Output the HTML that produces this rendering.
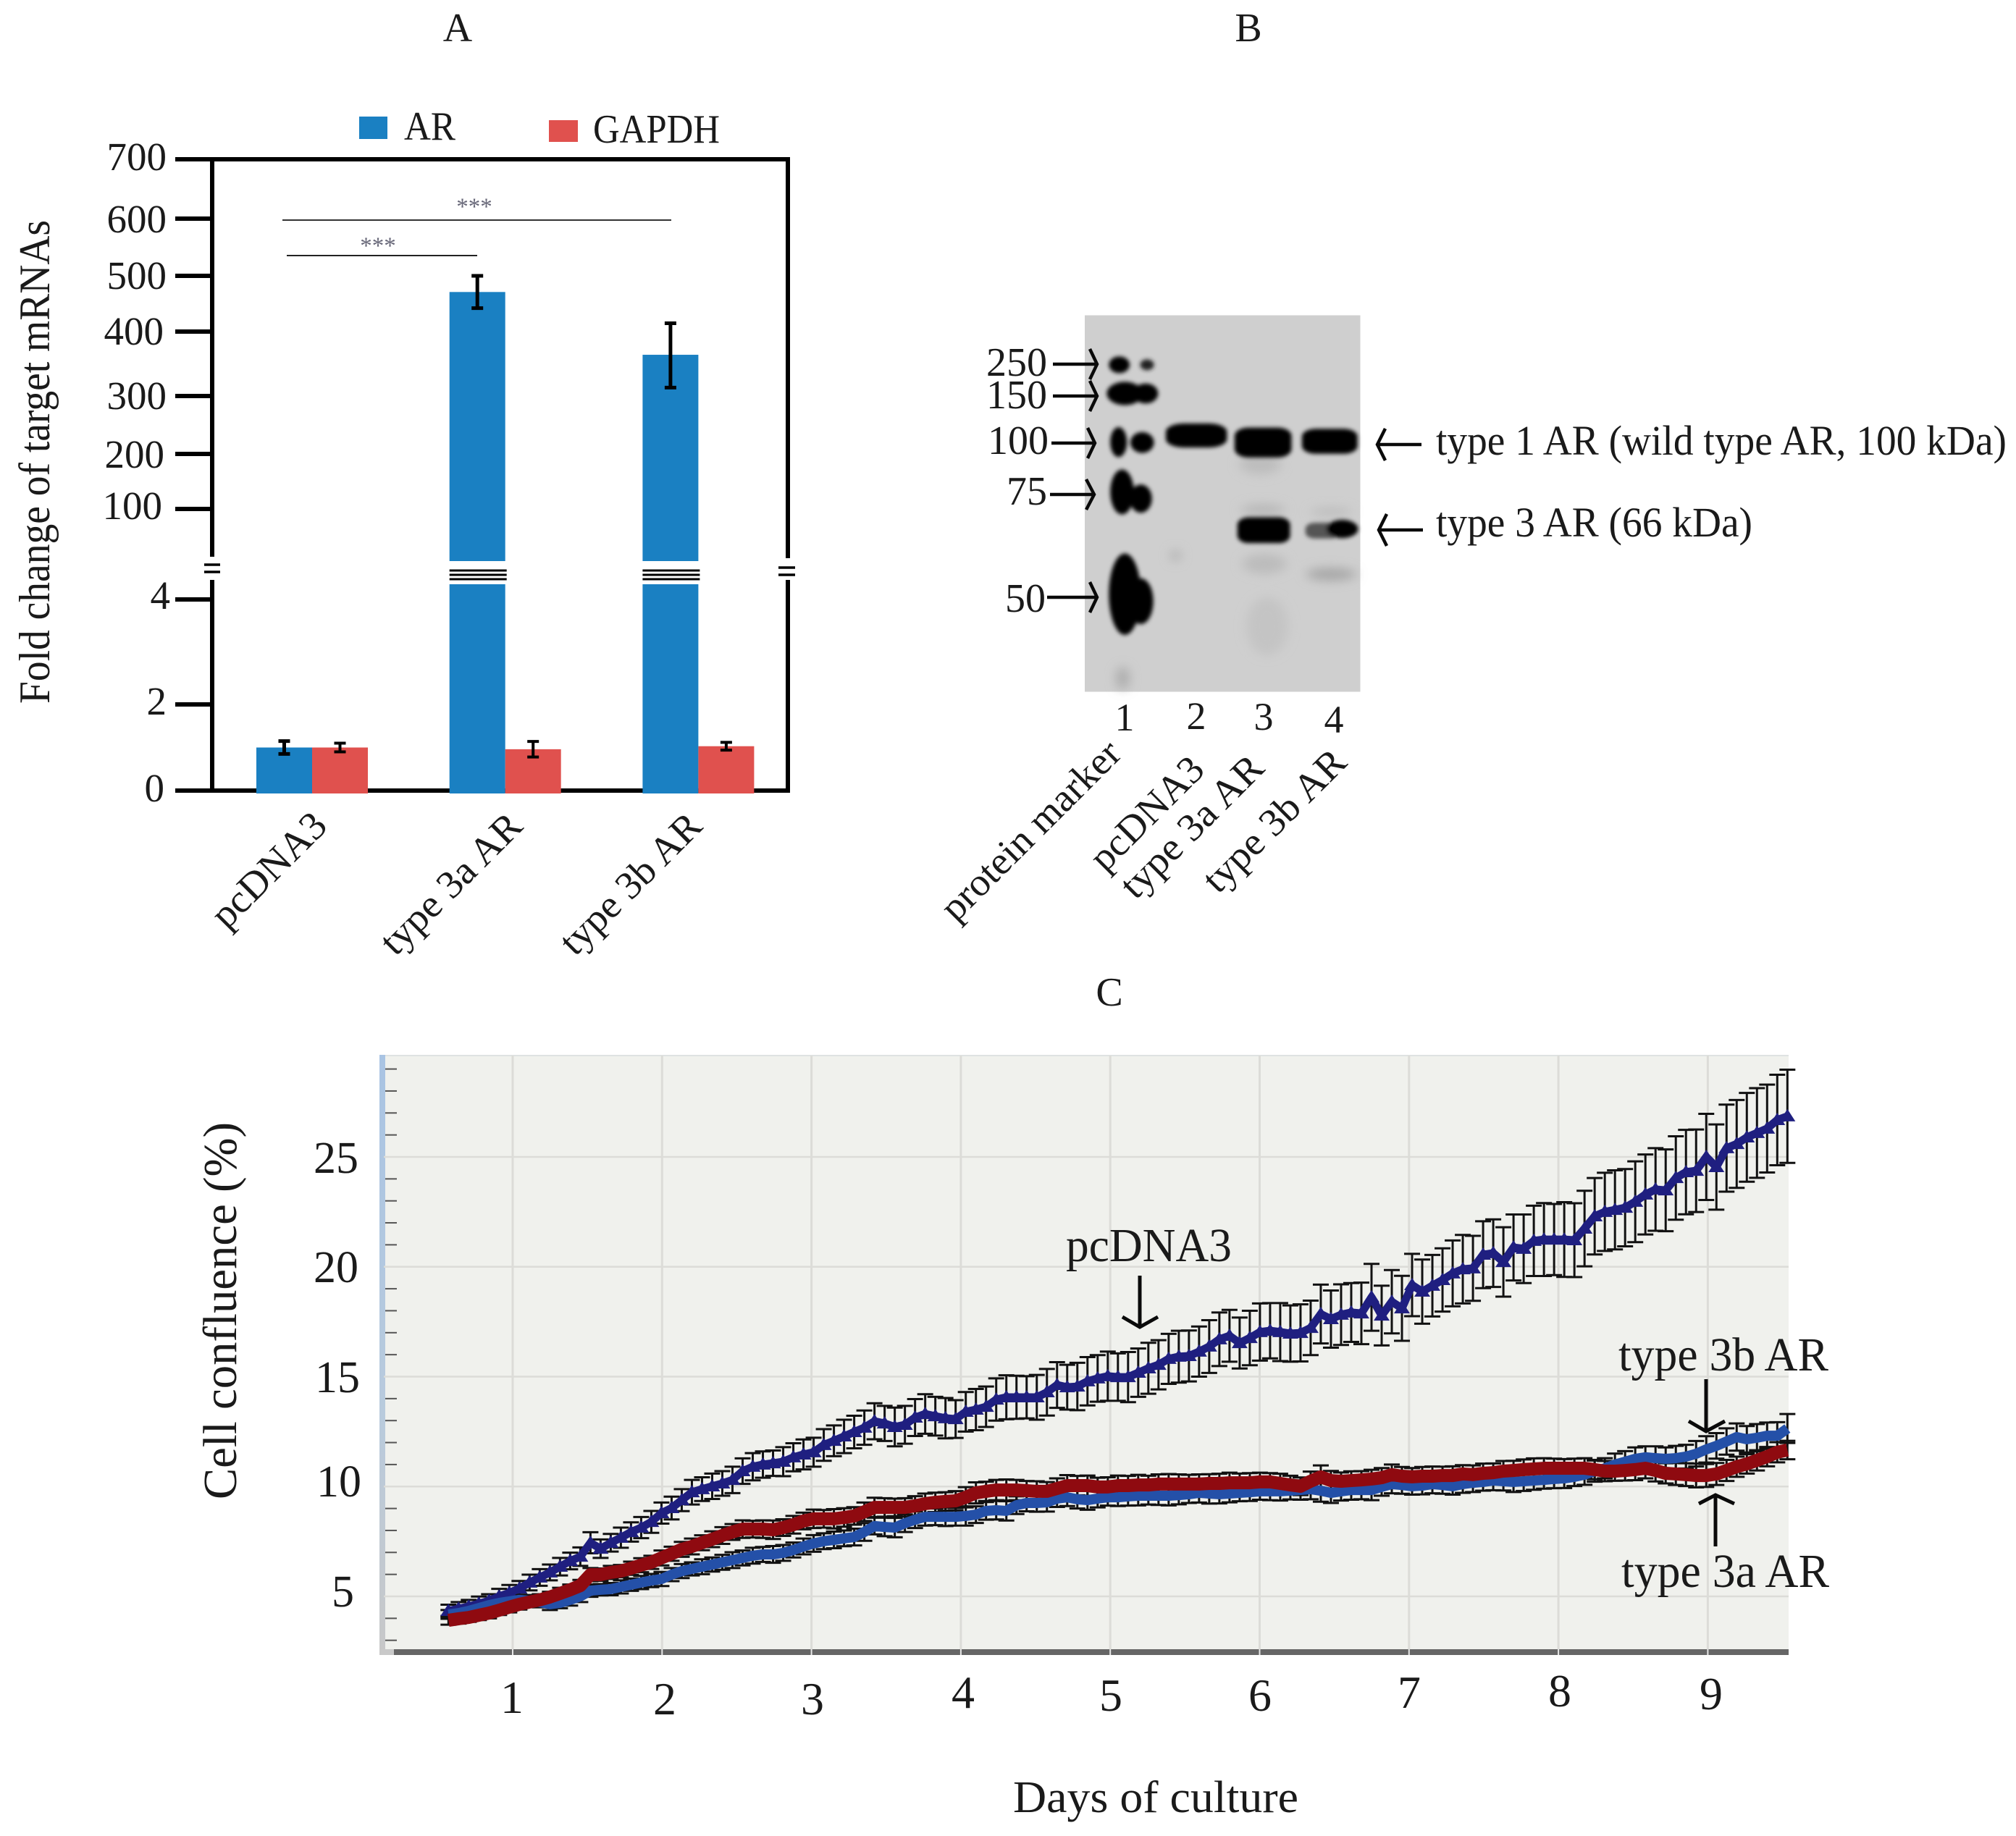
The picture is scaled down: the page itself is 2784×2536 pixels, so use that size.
<!DOCTYPE html>
<html lang="en">
<head>
<meta charset="utf-8">
<title>AR expression, western blot and cell confluence</title>
<style>
html,body{margin:0;padding:0;background:#fff;}
svg{display:block;}
text{font-family:"Liberation Serif","Noto Serif CJK SC",serif;fill:#1a1a1a;}
</style>
</head>
<body>
<svg id="figure" xmlns="http://www.w3.org/2000/svg" width="2784" height="2536" viewBox="0 0 2784 2536">
  <defs>
    <filter id="b1" x="-30%" y="-30%" width="160%" height="160%"><feGaussianBlur stdDeviation="3 5"/></filter>
    <filter id="b2" x="-50%" y="-50%" width="200%" height="200%"><feGaussianBlur stdDeviation="8 12"/></filter>
    <linearGradient id="strip" x1="0" y1="0" x2="0" y2="1"><stop offset="0" stop-color="#a9c4e3"/><stop offset="0.6" stop-color="#b9cbdd"/><stop offset="1" stop-color="#c8c8c8"/></linearGradient>
  </defs>
  <rect x="0" y="0" width="2784" height="2536" fill="#ffffff"/>

  <text x="632" y="57" font-size="56" text-anchor="middle">A</text>
  <text x="1724" y="57" font-size="56" text-anchor="middle">B</text>
  <text x="1532" y="1389" font-size="56" text-anchor="middle">C</text>

  <!-- PANEL A -->
  <g id="panelA"></g>
  <g>
    <rect x="496" y="161" width="39" height="31" fill="#1a80c2"/>
    <text x="558" y="193" font-size="56" textLength="71" lengthAdjust="spacingAndGlyphs">AR</text>
    <rect x="758" y="166" width="40" height="30" fill="#e0514e"/>
    <text x="819" y="197" font-size="56" textLength="175" lengthAdjust="spacingAndGlyphs">GAPDH</text>
  </g>
  <g font-size="55" text-anchor="end">
    <text x="230" y="235">700</text>
    <text x="230" y="321">600</text>
    <text x="230" y="399">500</text>
    <text x="226" y="476">400</text>
    <text x="230" y="565">300</text>
    <text x="227" y="646">200</text>
    <text x="224" y="717">100</text>
    <text x="235" y="841">4</text>
    <text x="230" y="987">2</text>
    <text x="227" y="1107">0</text>
  </g>
  <text transform="translate(68,972) rotate(-90)" font-size="60" textLength="668" lengthAdjust="spacingAndGlyphs">Fold change of target mRNAs</text>
  <text transform="translate(313,1285) rotate(-45)" font-size="55" textLength="200" lengthAdjust="spacingAndGlyphs">pcDNA3</text>
  <text transform="translate(546,1322) rotate(-45)" font-size="54" textLength="252" lengthAdjust="spacingAndGlyphs">type 3a AR</text>
  <text transform="translate(794,1322) rotate(-45)" font-size="54" textLength="252" lengthAdjust="spacingAndGlyphs">type 3b AR</text>
  <g>
    <line x1="390" y1="304" x2="927" y2="304" stroke="#333" stroke-width="2"/>
    <line x1="396" y1="353" x2="659" y2="353" stroke="#222" stroke-width="2"/>
    <text x="655" y="296" font-size="33" text-anchor="middle" style="fill:#667">***</text>
    <text x="522" y="350" font-size="33" text-anchor="middle" style="fill:#667">***</text>
  </g>

  <!-- PANEL B -->
  <g>
    <rect x="1498" y="435.5" width="380.5" height="520" fill="#cfcfcf"/>
    <g transform="translate(1280,400) scale(0.9591,0.574)">
      <g filter="url(#b2)">
        <ellipse cx="282" cy="935" rx="9" ry="28" fill="#aaaaaa"/>
        <ellipse cx="358" cy="640" rx="7" ry="14" fill="#b0b0b0"/>
        <ellipse cx="480" cy="420" rx="30" ry="25" fill="#bdbdbd"/>
        <ellipse cx="484" cy="530" rx="32" ry="14" fill="#b8b8b8"/>
        <ellipse cx="486" cy="660" rx="32" ry="24" fill="#bcbcbc"/>
        <ellipse cx="490" cy="810" rx="30" ry="70" fill="#c4c4c4"/>
        <ellipse cx="582" cy="535" rx="30" ry="10" fill="#bcbcbc"/>
        <ellipse cx="582" cy="685" rx="36" ry="16" fill="#a8a8a8"/>
      </g>
      <g filter="url(#b1)" fill="#040404">
        <ellipse cx="277" cy="181" rx="15" ry="20"/>
        <ellipse cx="317" cy="181" rx="10" ry="13" fill="#222"/>
        <ellipse cx="285" cy="250" rx="26" ry="28"/>
        <ellipse cx="315" cy="250" rx="18" ry="24"/>
        <ellipse cx="276" cy="367" rx="12" ry="36"/>
        <ellipse cx="310" cy="368" rx="17" ry="25"/>
        <ellipse cx="281" cy="487" rx="17" ry="54"/>
        <ellipse cx="308" cy="503" rx="16" ry="34"/>
        <ellipse cx="285" cy="733" rx="23" ry="98"/>
        <ellipse cx="308" cy="750" rx="18" ry="55"/>
        <rect x="344" y="322" width="88" height="58" rx="26" ry="20"/>
        <rect x="443" y="332" width="82" height="72" rx="20" ry="20"/>
        <rect x="540" y="335" width="80" height="60" rx="20" ry="18"/>
        <rect x="447" y="548" width="76" height="62" rx="16" ry="18"/>
        <rect x="545" y="561" width="50" height="38" rx="14" ry="14" fill="#555"/>
        <ellipse cx="598" cy="576" rx="23" ry="22"/>
      </g>
    </g>
    <g font-size="56" text-anchor="end">
      <text x="1446" y="519">250</text>
      <text x="1446" y="564">150</text>
      <text x="1448" y="627">100</text>
      <text x="1446" y="697">75</text>
      <text x="1444" y="845">50</text>
    </g>
    <g fill="none" stroke="#0a0a0a">
      <path stroke-width="4.5" d="M1454 503H1514M1505 482L1515 503L1505 524"/>
      <path stroke-width="4.5" d="M1454 547H1514M1505 526L1515 547L1505 568"/>
      <path stroke-width="4.5" d="M1452 612H1511M1502 591L1512 612L1502 633"/>
      <path stroke-width="4.5" d="M1450 683H1510M1500 662L1511 683L1500 704"/>
      <path stroke-width="4.5" d="M1446 825H1514M1505 804L1515 825L1505 846"/>
      <path stroke-width="4.5" d="M1903 614H1963M1913 592L1902 614L1913 636"/>
      <path stroke-width="4.5" d="M1905 732H1965M1915 710L1904 732L1915 754"/>
    </g>
    <text x="1983" y="628" font-size="58" textLength="788" lengthAdjust="spacingAndGlyphs">type 1 AR (wild type AR, 100 kDa)</text>
    <text x="1983" y="741" font-size="58" textLength="437" lengthAdjust="spacingAndGlyphs">type 3 AR (66 kDa)</text>
    <g font-size="54" text-anchor="middle">
      <text x="1553" y="1009">1</text>
      <text x="1652" y="1007">2</text>
      <text x="1745" y="1008">3</text>
      <text x="1842" y="1012">4</text>
    </g>
    <text transform="translate(1320,1275) rotate(-45)" font-size="54" textLength="327" lengthAdjust="spacingAndGlyphs">protein marker</text>
    <text transform="translate(1526,1206) rotate(-45)" font-size="54" textLength="198" lengthAdjust="spacingAndGlyphs">pcDNA3</text>
    <text transform="translate(1568,1244) rotate(-45)" font-size="54" textLength="255" lengthAdjust="spacingAndGlyphs">type 3a AR</text>
    <text transform="translate(1682,1236) rotate(-45)" font-size="54" textLength="255" lengthAdjust="spacingAndGlyphs">type 3b AR</text>
  </g>

  <!-- PANEL C -->
  <g id="panelC"></g>
  <g font-size="62" text-anchor="end">
    <text x="495" y="1620">25</text>
    <text x="495" y="1771">20</text>
    <text x="497" y="1923">15</text>
    <text x="499" y="2067">10</text>
    <text x="489" y="2219">5</text>
  </g>
  <g font-size="64" text-anchor="middle">
    <text x="707" y="2366">1</text>
    <text x="918" y="2368">2</text>
    <text x="1122" y="2368">3</text>
    <text x="1330" y="2359">4</text>
    <text x="1534" y="2363">5</text>
    <text x="1740" y="2363">6</text>
    <text x="1946" y="2359">7</text>
    <text x="2154" y="2357">8</text>
    <text x="2363" y="2361">9</text>
  </g>
  <text transform="translate(326,2071) rotate(-90)" font-size="66" textLength="521" lengthAdjust="spacingAndGlyphs">Cell confluence (%)</text>
  <text x="1399" y="2503" font-size="62" textLength="394" lengthAdjust="spacingAndGlyphs">Days of culture</text>
  <text x="1472" y="1742" font-size="66" textLength="229" lengthAdjust="spacingAndGlyphs">pcDNA3</text>
  <text x="2235" y="1893" font-size="66" textLength="290" lengthAdjust="spacingAndGlyphs">type 3b AR</text>
  <text x="2239" y="2192" font-size="66" textLength="287" lengthAdjust="spacingAndGlyphs">type 3a AR</text>
  <g fill="none" stroke="#0a0a0a" stroke-width="5">
    <path d="M1574 1762V1832M1550 1819L1574 1833L1599 1819"/>
    <path d="M2356 1905V1976M2332 1963L2356 1977L2382 1963"/>
    <path d="M2369 2136V2066M2346 2077L2369 2065L2395 2077"/>
  </g>
</svg>

<script>
/* ---------- Panel A data ---------- */
const barCategories = ['pcDNA3', 'type 3a AR', 'type 3b AR'];
const arValues = [1.0, 471, 364];
const arErrors = [0.15, 29, 51];
const gapdhValues = [1.0, 0.96, 1.03];
const gapdhErrors = [0.1, 0.18, 0.09];
const barTickValues = [0, 2, 4, 100, 200, 300, 400, 500, 600, 700];

/* ---------- Panel C data ---------- */
const firstDay = 0.57;
const dayStep = 0.0679;
const confluenceYTicks = [5, 10, 15, 20, 25];
const confluenceYMinorTicks = [3,4,6,7,8,9,11,12,13,14,16,17,18,19,21,22,23,24,26,27,28,29];
const confluenceDayTicks = [1, 2, 3, 4, 5, 6, 7, 8, 9];
const pcdna3Values = [
4.34,4.44,4.54,4.67,4.80,5.00,5.16,5.36,5.63,5.86,
6.09,6.35,6.61,6.81,7.44,7.17,7.44,7.67,7.93,8.13,
8.39,8.79,9.02,9.38,9.74,9.88,10.01,10.14,10.30,10.70,
10.90,11.00,11.06,11.13,11.33,11.46,11.56,11.89,12.08,12.28,
12.48,12.68,12.97,12.87,12.71,12.81,13.14,13.30,13.20,13.11,
13.07,13.40,13.50,13.63,13.96,14.06,14.06,14.06,14.06,14.29,
14.62,14.52,14.55,14.79,14.92,15.02,14.98,14.98,15.18,15.38,
15.54,15.81,15.91,15.94,16.14,16.37,16.70,16.86,16.53,16.76,
17.03,17.09,17.03,16.96,16.99,17.22,17.85,17.62,17.82,17.92,
17.88,18.61,17.78,18.41,18.11,19.17,18.87,19.14,19.40,19.70,
19.89,19.93,20.55,20.62,20.22,20.88,20.82,21.18,21.24,21.24,
21.24,21.21,21.74,22.30,22.50,22.59,22.69,22.96,23.29,23.52,
23.48,24.04,24.31,24.37,25.00,24.54,25.40,25.59,25.89,26.09,
26.29,26.68,26.85];
const pcdna3Errors = [
0.28,0.30,0.30,0.32,0.30,0.34,0.36,0.34,0.36,0.38,
0.36,0.40,0.38,0.42,0.48,0.42,0.40,0.46,0.44,0.48,
0.50,0.48,0.52,0.50,0.56,0.54,0.58,0.56,0.60,0.58,
0.62,0.60,0.58,0.66,0.64,0.68,0.66,0.72,0.70,0.76,
0.74,0.78,0.82,0.80,0.88,0.86,0.84,0.90,0.88,0.92,
0.86,0.90,0.94,0.92,0.96,1.00,0.98,0.96,1.02,1.06,
1.04,1.02,1.08,1.10,1.06,1.12,1.08,1.14,1.10,1.16,
1.12,1.14,1.18,1.16,1.14,1.20,1.22,1.18,1.16,1.24,
1.30,1.26,1.32,1.28,1.30,1.24,1.34,1.30,1.38,1.34,
1.40,1.52,1.36,1.44,1.48,1.42,1.46,1.40,1.44,1.50,
1.56,1.48,1.52,1.54,1.58,1.50,1.56,1.60,1.66,1.62,
1.70,1.68,1.72,1.74,1.78,1.80,1.76,1.84,1.82,1.88,
1.86,1.90,1.92,1.88,1.96,1.94,1.98,2.00,2.02,2.04,
2.00,2.06,2.12];
const type3aValues = [
3.91,3.98,4.04,4.14,4.24,4.37,4.51,4.64,4.74,4.84,
4.97,5.13,5.30,5.49,5.99,5.99,6.09,6.15,6.28,6.42,
6.55,6.75,6.94,7.14,7.27,7.44,7.60,7.77,7.93,8.06,
8.06,8.06,8.03,8.13,8.26,8.43,8.53,8.53,8.53,8.59,
8.66,8.85,9.05,9.05,9.05,9.05,9.12,9.22,9.28,9.32,
9.35,9.51,9.71,9.78,9.84,9.84,9.84,9.81,9.78,9.78,
9.91,10.04,10.04,10.04,9.98,9.98,10.04,10.04,10.07,10.07,
10.11,10.11,10.11,10.11,10.11,10.14,10.14,10.17,10.17,10.17,
10.21,10.21,10.14,10.07,10.01,10.24,10.44,10.27,10.24,10.27,
10.30,10.34,10.40,10.54,10.47,10.44,10.47,10.47,10.50,10.50,
10.57,10.54,10.60,10.63,10.70,10.73,10.77,10.80,10.83,10.83,
10.83,10.83,10.83,10.77,10.70,10.70,10.73,10.77,10.83,10.73,
10.60,10.57,10.54,10.50,10.50,10.57,10.73,10.90,11.03,11.19,
11.36,11.56,11.66];
const type3aErrors = [
0.20,0.22,0.20,0.22,0.24,0.22,0.24,0.24,0.22,0.26,
0.24,0.26,0.24,0.26,0.30,0.28,0.30,0.28,0.30,0.32,
0.30,0.34,0.32,0.34,0.36,0.34,0.36,0.38,0.36,0.40,
0.38,0.40,0.42,0.38,0.40,0.38,0.42,0.40,0.44,0.42,
0.40,0.42,0.44,0.42,0.40,0.42,0.44,0.46,0.44,0.42,
0.44,0.46,0.48,0.44,0.46,0.48,0.46,0.44,0.46,0.42,
0.46,0.48,0.44,0.46,0.42,0.44,0.46,0.44,0.46,0.42,
0.44,0.46,0.44,0.42,0.44,0.42,0.44,0.46,0.42,0.44,
0.42,0.40,0.44,0.42,0.40,0.44,0.52,0.44,0.40,0.42,
0.40,0.42,0.44,0.46,0.42,0.40,0.42,0.44,0.40,0.42,
0.40,0.42,0.44,0.42,0.46,0.44,0.46,0.48,0.46,0.44,
0.42,0.44,0.46,0.44,0.46,0.44,0.46,0.48,0.46,0.50,
0.46,0.50,0.52,0.54,0.52,0.50,0.48,0.46,0.44,0.46,
0.44,0.46,0.42];
const type3bValues = [
4.18,4.24,4.34,4.47,4.60,4.70,4.77,4.84,4.80,4.74,
4.64,4.70,4.84,5.00,5.26,5.30,5.33,5.43,5.53,5.63,
5.72,5.79,5.99,6.15,6.25,6.35,6.45,6.55,6.65,6.75,
6.85,6.91,6.91,6.98,7.11,7.27,7.41,7.51,7.57,7.64,
7.70,7.93,8.20,8.16,8.13,8.33,8.49,8.62,8.62,8.62,
8.62,8.66,8.72,8.89,8.92,8.89,9.15,9.25,9.25,9.28,
9.45,9.51,9.42,9.38,9.45,9.51,9.51,9.55,9.58,9.58,
9.58,9.58,9.61,9.65,9.71,9.68,9.65,9.68,9.71,9.74,
9.78,9.78,9.78,9.81,9.84,9.88,9.81,9.71,9.78,9.84,
9.84,9.84,9.98,10.11,10.07,10.01,10.04,10.11,10.07,10.01,
10.11,10.17,10.21,10.27,10.24,10.21,10.24,10.27,10.30,10.34,
10.37,10.44,10.54,10.70,10.83,11.00,11.13,11.26,11.33,11.29,
11.26,11.29,11.36,11.49,11.69,11.85,12.05,12.25,12.15,12.22,
12.31,12.31,12.64];
const type3bErrors = [
0.20,0.20,0.22,0.22,0.24,0.24,0.22,0.24,0.26,0.24,
0.26,0.24,0.26,0.26,0.28,0.26,0.28,0.30,0.28,0.30,
0.30,0.32,0.30,0.32,0.30,0.34,0.32,0.34,0.36,0.34,
0.36,0.34,0.38,0.36,0.34,0.36,0.38,0.36,0.38,0.36,
0.38,0.40,0.38,0.42,0.44,0.40,0.38,0.40,0.38,0.42,
0.40,0.44,0.38,0.40,0.42,0.44,0.40,0.38,0.40,0.42,
0.38,0.40,0.42,0.44,0.40,0.38,0.40,0.42,0.44,0.40,
0.42,0.44,0.42,0.40,0.44,0.46,0.42,0.40,0.38,0.40,
0.38,0.40,0.42,0.40,0.44,0.46,0.50,0.46,0.42,0.44,
0.42,0.46,0.40,0.42,0.40,0.38,0.40,0.42,0.40,0.38,
0.40,0.42,0.40,0.44,0.42,0.46,0.44,0.42,0.40,0.42,
0.44,0.42,0.46,0.48,0.46,0.50,0.48,0.52,0.50,0.54,
0.52,0.56,0.54,0.58,0.60,0.58,0.60,0.62,0.60,0.62,
0.60,0.62,0.66];

const NS = 'http://www.w3.org/2000/svg';
function make(tag, parent, attrs) {
  const node = document.createElementNS(NS, tag);
  for (const key in attrs) node.setAttribute(key, attrs[key]);
  parent.appendChild(node);
  return node;
}

/* ---------- Panel A axis functions ---------- */
function barY(value) {
  const domain = [0, 2, 4, 100, 200, 300, 400, 500, 600, 700];
  const range = [1092, 973, 828, 703, 627, 547, 458, 381, 302, 220];
  let k = domain.length - 2;
  for (let j = 0; j < domain.length - 1; j++) {
    if (value <= domain[j + 1]) { k = j; break; }
  }
  return range[k] + (value - domain[k]) / (domain[k + 1] - domain[k]) * (range[k + 1] - range[k]);
}
function groupX(index) { return 431 + index * 266.7; }

const panelA = document.getElementById('panelA');
const BAR_W = 77;
const BAR_BASE = 1096;
const BREAK_TOP = 775;
const BREAK_BOTTOM = 807;

function drawBar(value, left, colour, name) {
  const top = barY(value);
  if (value > 4) {
    const upper = make('rect', panelA, {x: left, y: top, width: BAR_W, height: BREAK_TOP - top, fill: colour});
    
    
    const lower = make('rect', panelA, {x: left, y: BREAK_BOTTOM, width: BAR_W, height: BAR_BASE - BREAK_BOTTOM, fill: colour});
    
    
    for (const offset of [788, 794, 800]) {
      const brk = make('line', panelA, {x1: left, x2: left + BAR_W + 2, y1: offset, y2: offset, stroke: '#000', 'stroke-width': 3});
      
      
    }
  } else {
    const bar = make('rect', panelA, {x: left, y: top, width: BAR_W, height: BAR_BASE - top, fill: colour});
    
    
  }
}
function drawBarError(value, err, cx, name, weight) {
  const y1 = barY(value + err), y2 = barY(value - err);
  const d = 'M' + cx + ' ' + y1 + 'V' + y2 + 'M' + (cx - 8) + ' ' + y1 + 'H' + (cx + 8) + 'M' + (cx - 8) + ' ' + y2 + 'H' + (cx + 8);
  const eb = make('path', panelA, {d: d, stroke: '#000', 'stroke-width': weight, fill: 'none'});
  
  
}

/* axis frame */
const frameSegments = [
  ['frame-top', 'M242 220H1091'],
  ['frame-bottom', 'M242 1092H1091'],
  ['frame-left-upper', 'M293 220V769'],
  ['frame-left-lower', 'M293 801V1092'],
  ['frame-right-upper', 'M1088 220V771'],
  ['frame-right-lower', 'M1088 801V1092']
];
for (const seg of frameSegments) {
  const fr = make('path', panelA, {d: seg[1], stroke: '#000', 'stroke-width': 6, fill: 'none'});
  
  
}
const breakMarks = ['M282 780H304M282 790H304', 'M1075 784H1098M1075 794H1098'];
for (const bm of breakMarks) {
  const mk = make('path', panelA, {d: bm, stroke: '#000', 'stroke-width': 3.5, fill: 'none'});
  
  
}
for (const t of barTickValues) {
  const tick = make('line', panelA, {x1: 242, x2: 293, y1: barY(t), y2: barY(t), stroke: '#000', 'stroke-width': 6});
  
  
}
barCategories.forEach(function (cat, i) {
  const slug = cat.toLowerCase().replace(/\s+/g, '-');
  const gx = groupX(i);
  drawBar(arValues[i], gx - BAR_W, '#1a80c2', 'bar-ar-' + slug);
  drawBar(gapdhValues[i], gx, '#e0514e', 'bar-gapdh-' + slug);
  drawBarError(arValues[i], arErrors[i], gx - BAR_W / 2, 'error-ar-' + slug, 5);
  drawBarError(gapdhValues[i], gapdhErrors[i], gx + BAR_W / 2, 'error-gapdh-' + slug, 4);
});

/* ---------- Panel C axis functions ---------- */
function dayX(day) { return 708 + (day - 1) * 206.3; }
function confY(value) { return 2205 - (value - 5) * 30.35; }
function sampleX(i) { return dayX(firstDay + i * dayStep); }

const panelC = document.getElementById('panelC');
const plotBg = make('rect', panelC, {x: 524, y: 1457, width: 1946, height: 829, fill: '#f0f1ed'});


const plotTop = make('line', panelC, {x1: 524, x2: 2470, y1: 1458, y2: 1458, stroke: '#dfe2e2', 'stroke-width': 2});


const strip = make('rect', panelC, {x: 524, y: 1457, width: 8, height: 829, fill: 'url(#strip)'});


const bottomStrip = make('rect', panelC, {x: 524, y: 2278, width: 20, height: 8, fill: '#c9c9c9'});



for (const v of confluenceYTicks) {
  const g = make('line', panelC, {x1: 530, x2: 2470, y1: confY(v), y2: confY(v), stroke: '#dcdcd8', 'stroke-width': 2.5});
  
  
}
for (const v of confluenceYMinorTicks) {
  const m = make('line', panelC, {x1: 532, x2: 548, y1: confY(v), y2: confY(v), stroke: '#555', 'stroke-width': 2});
  
  
}
for (const d of confluenceDayTicks) {
  const g = make('line', panelC, {x1: dayX(d), x2: dayX(d), y1: 1458, y2: 2278, stroke: '#dcdcd8', 'stroke-width': 3});
  
  
}
const axisBar = make('rect', panelC, {x: 544, y: 2278, width: 1926, height: 8, fill: '#666'});


for (const d of confluenceDayTicks) {
  const n = make('line', panelC, {x1: dayX(d), x2: dayX(d), y1: 2278, y2: 2286, stroke: '#e8e8e8', 'stroke-width': 2});
  
  
}

function drawErrors(values, errors, name) {
  let d = '';
  values.forEach(function (v, i) {
    const x = sampleX(i);
    const y1 = confY(v + errors[i]);
    const y2 = confY(v - errors[i]);
    d += 'M' + x + ' ' + y1 + 'V' + y2;
    d += 'M' + (x - 11) + ' ' + y1 + 'H' + (x + 11);
    d += 'M' + (x - 11) + ' ' + y2 + 'H' + (x + 11);
  });
  const eb = make('path', panelC, {d: d, fill: 'none', stroke: '#111', 'stroke-width': 3});
  
  
}
function drawLine(values, colour, width, name) {
  const pts = values.map(function (v, i) { return sampleX(i) + ',' + confY(v); }).join(' ');
  const ln = make('polyline', panelC, {points: pts, fill: 'none', stroke: colour, 'stroke-width': width, 'stroke-linejoin': 'round'});
  
  
}

drawErrors(pcdna3Values, pcdna3Errors, 'pcdna3-error-bars');
drawErrors(type3bValues, type3bErrors, 'type-3b-error-bars');
drawErrors(type3aValues, type3aErrors, 'type-3a-error-bars');
drawLine(pcdna3Values, '#1f1f80', 11, 'pcdna3-line');
pcdna3Values.forEach(function (v, i) {
  const x = sampleX(i), y = confY(v);
  const tri = make('polygon', panelC, {points: (x - 11) + ',' + (y + 7) + ' ' + x + ',' + (y - 10) + ' ' + (x + 11) + ',' + (y + 7), fill: '#1f1f80'});
  
  
});
drawLine(type3bValues, '#2450a8', 14, 'type-3b-line');
drawLine(type3aValues, '#8f0a10', 18, 'type-3a-line');
</script>
</body>
</html>
